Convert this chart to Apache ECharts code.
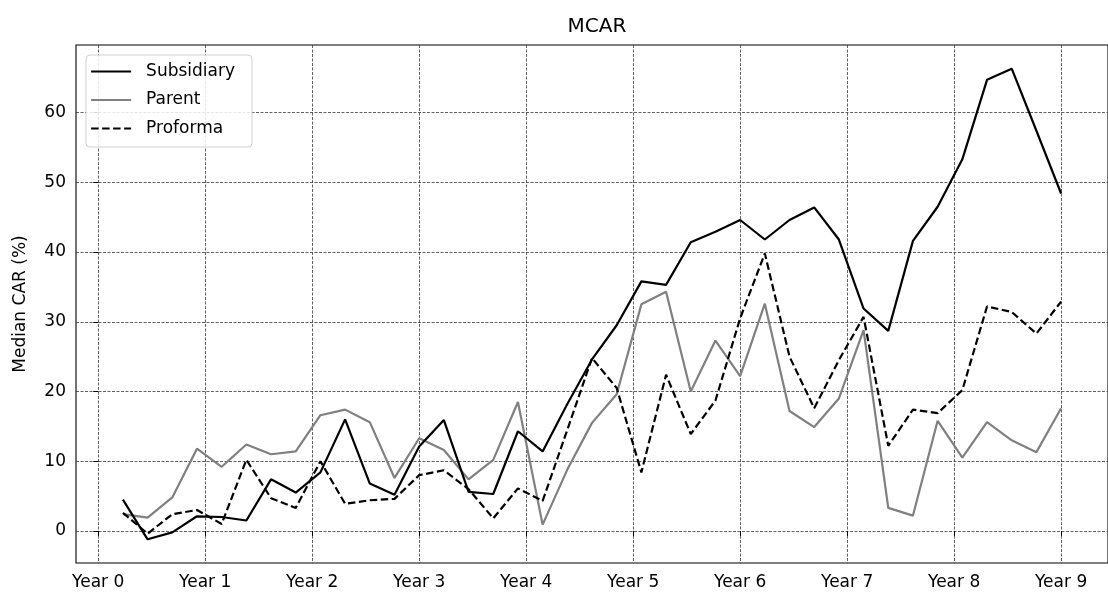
<!DOCTYPE html>
<html>
<head>
<meta charset="utf-8">
<title>MCAR</title>
<script src="https://cdn.jsdelivr.net/npm/echarts@6/dist/echarts.min.js"></script>
<style>
  html, body { margin: 0; padding: 0; background: #fff; }
  #chart { width: 1108px; height: 595px; }
</style>
</head>
<body>
<div id="chart"></div>
<script>
// Quarterly observation index (1..39); "Year k" ticks sit at k * 39 / 9.
const periods = [1, 2, 3, 4, 5, 6, 7, 8, 9, 10, 11, 12, 13, 14, 15, 16, 17, 18, 19, 20,
                 21, 22, 23, 24, 25, 26, 27, 28, 29, 30, 31, 32, 33, 34, 35, 36, 37, 38, 39];
const yearLabels = ['Year 0', 'Year 1', 'Year 2', 'Year 3', 'Year 4',
                    'Year 5', 'Year 6', 'Year 7', 'Year 8', 'Year 9'];
const yTicks = [0, 10, 20, 30, 40, 50, 60];

// Median CAR (%) per period
const subsidiary = [4.5, -1.2, -0.2, 2.1, 2.0, 1.5, 7.4, 5.5, 8.4, 16.0,
                    6.8, 5.2, 12.1, 15.9, 5.6, 5.3, 14.3, 11.4, 18.2, 24.6,
                    29.5, 35.8, 35.3, 41.4, 42.9, 44.6, 41.8, 44.6, 46.4, 41.8,
                    31.9, 28.7, 41.6, 46.5, 53.3, 64.7, 66.3, 57.4, 48.4];
const parent = [2.4, 1.9, 4.8, 11.8, 9.2, 12.4, 11.0, 11.4, 16.6, 17.4,
                15.6, 7.6, 13.3, 11.6, 7.4, 10.2, 18.5, 0.9, 8.8, 15.5,
                19.6, 32.5, 34.3, 20.0, 27.3, 22.2, 32.6, 17.2, 14.9, 19.0,
                28.8, 3.3, 2.2, 15.8, 10.5, 15.6, 13.0, 11.3, 17.6];
const proforma = [2.6, -0.4, 2.4, 3.0, 1.0, 10.2, 4.7, 3.3, 10.0, 3.9,
                  4.4, 4.6, 8.0, 8.7, 6.0, 1.8, 6.1, 4.3, 14.5, 24.8,
                  20.5, 8.4, 22.4, 13.9, 18.7, 30.5, 39.8, 25.0, 17.6, 24.5,
                  30.7, 12.2, 17.4, 16.9, 20.2, 32.2, 31.4, 28.3, 32.9];

const lastPeriod = periods[periods.length - 1];
const yearStep = lastPeriod / (yearLabels.length - 1);
const yearTickPos = yearLabels.map((_, k) => k * yearStep);

const FONT = 'DejaVu Sans';
const pair = (vals) => periods.map((p, i) => [p, vals[i]]);

const gridLine = { show: true, lineStyle: { color: '#3a3a3a', width: 0.8, type: [3, 1.5] } };

const chart = echarts.init(document.getElementById('chart'), null, { renderer: 'canvas' });
chart.setOption({
  animation: false,
  backgroundColor: '#fff',
  textStyle: { fontFamily: FONT },
  title: {
    text: 'MCAR',
    left: 597,
    top: 17,
    textAlign: 'center',
    padding: 0,
    textStyle: { fontFamily: FONT, fontSize: 20, fontWeight: 'normal', color: '#000' }
  },
  legend: {
    orient: 'vertical',
    left: 86,
    top: 55,
    padding: [8, 17, 10, 4],
    itemGap: 11.5,
    itemWidth: 40,
    itemHeight: 17,
    backgroundColor: 'rgba(255,255,255,0.85)',
    borderColor: '#d0d0d0',
    borderWidth: 1,
    borderRadius: 4,
    itemStyle: { opacity: 0 },
    lineStyle: { width: 2.2 },
    textStyle: { fontFamily: FONT, fontSize: 17, color: '#000', padding: [0, 0, 0, 10], lineHeight: 17 },
    data: ['Subsidiary', 'Parent', 'Proforma']
  },
  grid: {
    left: 76, top: 45, width: 1041, height: 518,
    show: true, borderColor: '#000', borderWidth: 1.1, backgroundColor: 'transparent'
  },
  xAxis: {
    type: 'value',
    min: -0.9,
    max: 40.9,
    axisLine: { show: false },
    axisTick: { show: true, length: 5, lineStyle: { color: '#000', width: 1 }, customValues: yearTickPos },
    axisLabel: {
      customValues: yearTickPos,
      margin: 11,
      fontFamily: FONT, fontSize: 17, color: '#000',
      formatter: (v) => yearLabels[Math.round(v / yearStep)]
    },
    splitLine: gridLine
  },
  yAxis: {
    type: 'value',
    min: -4.6,
    max: 69.7,
    name: 'Median CAR (%)',
    nameLocation: 'middle',
    nameRotate: 90,
    nameGap: 47,
    nameTextStyle: { fontFamily: FONT, fontSize: 17, color: '#000' },
    axisLine: { show: false },
    axisTick: { show: true, length: 5, lineStyle: { color: '#000', width: 1 }, customValues: yTicks },
    axisLabel: { customValues: yTicks, margin: 10, fontFamily: FONT, fontSize: 17, color: '#000' },
    splitLine: gridLine
  },
  series: [
    {
      name: 'Subsidiary', type: 'line', data: pair(subsidiary),
      symbol: 'none', z: 4,
      lineStyle: { color: '#000', width: 2.2 }, itemStyle: { color: '#000' }
    },
    {
      name: 'Parent', type: 'line', data: pair(parent),
      symbol: 'none', z: 3,
      lineStyle: { color: '#808080', width: 2.2 }, itemStyle: { color: '#808080' }
    },
    {
      name: 'Proforma', type: 'line', data: pair(proforma),
      symbol: 'none', z: 5,
      lineStyle: { color: '#000', width: 2.2, type: [7.5, 3.5] }, itemStyle: { color: '#000' }
    }
  ]
});
</script>
</body>
</html>
